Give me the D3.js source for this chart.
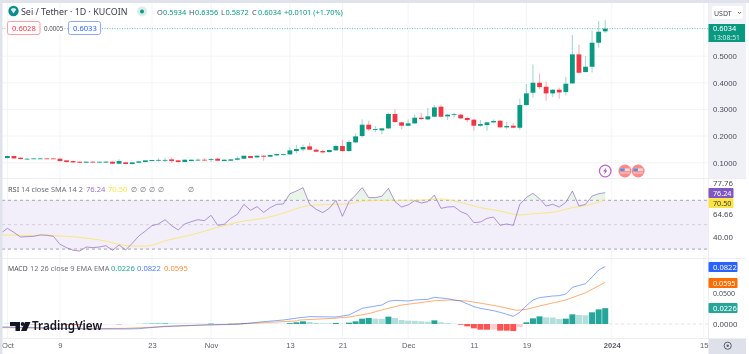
<!DOCTYPE html>
<html>
<head>
<meta charset="utf-8">
<script src="https://cdn.jsdelivr.net/npm/d3@7"></script>
<style>
html, body { margin: 0; padding: 0; background: #fff; overflow: hidden; }
svg { display: block; filter: blur(0.5px); font-family: "Noto Sans", sans-serif; }
</style>
</head>
<body>
<svg id="chart" width="749" height="354"></svg>
<script>
// daily candles, Oct 1 - Dec 31 2023
var opens = [
  .1175,.1250,.1187,.1137,.1150,.1150,.1160,.1160,.1150,.1087,
  .1062,.1037,.1000,.1037,.1005,.1005,.1037,.0962,.1012,.0950,
  .1000,.1025,.1062,.1090,.1085,.1125,.1087,.1025,.1062,.1085,
  .1112,.1112,.1150,.1062,.1075,.1112,.1150,.1250,.1200,.1262,
  .1225,.1275,.1310,.1312,.1438,.1500,.1613,.1488,.1438,.1400,
  .1463,.1626,.1438,.1763,.2001,.2427,.2239,.2215,.2289,.2828,
  .2515,.2389,.2477,.2690,.2627,.2727,.3103,.2740,.2790,.2803,
  .2678,.2615,.2389,.2414,.2515,.2577,.2327,.2389,.2313,.3165,
  .3628,.4003,.3853,.3603,.3741,.3653,.3978,.5068,.4404,.4604,.5506,.5934];
var closes = [
  .1250,.1162,.1137,.1150,.1160,.1160,.1150,.1150,.1062,.1025,
  .1012,.1000,.1037,.1005,.1037,.1040,.0962,.1062,.0950,.1012,
  .1050,.1087,.1100,.1105,.1105,.1062,.1025,.1112,.1112,.1112,
  .1100,.1137,.1075,.1112,.1125,.1162,.1262,.1175,.1262,.1225,
  .1288,.1325,.1325,.1463,.1513,.1588,.1488,.1413,.1388,.1475,
  .1626,.1438,.1776,.1989,.2427,.2252,.2264,.2289,.2828,.2527,
  .2389,.2477,.2690,.2640,.2740,.3078,.2727,.2803,.2820,.2665,
  .2602,.2389,.2452,.2515,.2565,.2327,.2377,.2314,.3165,.3603,
  .4003,.3841,.3603,.3741,.3640,.3966,.5068,.4379,.4604,.5506,.5919,.6034];
var highs = [
  .1262,.1262,.1200,.1160,.1165,.1165,.1165,.1165,.1162,.1095,
  .1070,.1045,.1045,.1045,.1040,.1050,.1050,.1125,.1040,.1015,
  .1055,.1090,.1105,.1162,.1187,.1180,.1100,.1120,.1115,.1162,
  .1175,.1175,.1187,.1125,.1137,.1237,.1262,.1260,.1275,.1275,
  .1300,.1340,.1350,.1575,.1663,.1688,.1751,.1538,.1488,.1500,
  .1676,.1851,.1851,.2101,.2627,.2577,.2377,.2314,.2878,.3003,
  .2540,.2627,.2815,.2878,.3053,.3166,.3178,.2828,.2878,.2828,
  .2727,.2640,.2602,.2540,.2627,.2602,.2540,.2477,.3415,.3953,
  .4692,.4341,.4041,.3766,.3816,.4229,.5794,.5418,.5005,.5957,.6320,.6356];
var lows = [
  .1162,.1150,.1125,.1110,.1135,.1140,.1140,.1140,.1050,.1015,
  .1000,.0995,.0995,.1000,.1000,.1000,.0955,.0950,.0945,.0935,
  .0995,.1020,.1055,.1050,.1025,.1000,.1015,.1020,.1050,.1062,
  .1050,.1025,.1050,.1050,.1065,.1087,.1140,.1175,.1190,.1075,
  .1215,.1265,.1275,.1290,.1350,.1425,.1463,.1388,.1338,.1375,
  .1450,.1413,.1413,.1738,.1951,.2202,.2139,.2064,.2264,.2502,
  .2252,.2364,.2452,.2602,.2602,.2715,.2715,.2602,.2702,.2640,
  .2515,.2202,.2352,.2202,.2477,.2314,.2252,.2314,.2225,.3140,
  .3453,.3766,.3327,.3465,.3415,.3528,.3966,.4354,.4391,.4391,.5318,.5872];

// first value belongs to Sep 30, it runs in from under the left edge
var rsiValues = [
  43.0,47.0,43.7,39.9,40.2,40.5,41.6,41.3,40.5,33.9,31.2,
  29.0,28.4,31.7,31.2,31.7,32.8,29.0,33.4,29.3,34.7,
  40.7,44.8,49.2,50.6,54.1,49.2,45.7,50.6,52.5,54.1,
  53.3,57.7,49.5,50.3,55.2,58.5,66.7,61.8,64.8,60.1,
  64.0,66.7,67.0,75.4,77.6,80.4,66.7,62.6,59.9,63.4,
  70.0,56.9,68.9,74.3,80.4,72.2,72.2,73.3,79.8,68.9,
  64.5,66.2,69.7,67.8,68.9,74.3,63.4,64.5,64.8,60.7,
  58.5,51.7,52.2,55.2,56.3,49.5,50.6,49.5,66.7,72.4,
  75.7,71.3,65.3,66.7,64.5,68.3,77.6,65.3,66.7,73.5,75.4,76.24];
var smaDays = [-1,0,4,5.5,7,9,14,19,21,24.5,28,32,35.5,39.5,43.5,44.5,47,50,52,54,57.5,62,66,69,72,75,78,80,83,86,88,91];
var smaValues = [41.6,41.6,41.0,41.8,41.0,40.5,37.5,32.5,32.5,37.5,41.6,47.8,52.5,55.8,62.1,64.0,66.2,66.7,67.2,69.4,70,70,71.1,68.3,64,61.2,58,59,60.1,64,65.6,70.5];

var histValues = [
  .0006,.0003,-.0001,-.0003,-.0005,-.0006,-.0005,-.0004,-.0006,-.0010,
  -.0012,-.0012,-.0010,-.0008,-.0007,-.0006,-.0005,-.0005,-.0003,-.0001,
  .0002,.0004,.0006,.0007,.0008,.0007,.0006,.0006,.0006,.0006,
  .0005,.0006,.0004,.0003,.0004,.0005,.0009,.0007,.0007,.0006,
  .0006,.0005,.0004,.0012,.0024,.0038,.0029,.0014,.0010,.0009,
  .0014,.0005,.0019,.0038,.0076,.0086,.0076,.0074,.0105,.0086,
  .0057,.0048,.0045,.0038,.0033,.0052,.0024,.0014,.0005,-.0010,
  -.0033,-.0062,-.0081,-.0081,-.0079,-.0095,-.0095,-.0100,-.0043,.0024,
  .0081,.0109,.0095,.0093,.0071,.0076,.0138,.0129,.0124,.0167,.0209,.0226];
var macdDays = [-1,0,6,12,18,20,24,30,35,39,42,44.5,45,46,50,52,54,57,58,59,61,62,64,65,67,68,69,71,72,74,75,77,78,79,80,81,83,84,85,86,88,89,90,91];
var macdValues = [-.0043,-.0043,-.0057,-.0071,-.0071,-.0067,-.0033,-.0014,-.0005,.0033,.0057,.0090,.0095,.0105,.0100,.0129,.0224,.0271,.0324,.0338,.0328,.0343,.0352,.0381,.0362,.0343,.0328,.0248,.0224,.0190,.0167,.0109,.0167,.0262,.0343,.0376,.0400,.0405,.0428,.0524,.0576,.0671,.0771,.0822];
var signalDays = [-1,0,12,18,24,30,35,40,44,44.5,49.6,52,55,57.5,60,62.5,65,67.5,70,72.5,75,77.5,79,81,85,88,91];
var signalValues = [-.0052,-.0052,-.0067,-.0062,-.0038,-.0014,0,.0024,.0043,.0057,.0081,.0100,.0148,.0214,.0271,.0300,.0333,.0343,.0328,.0290,.0248,.0195,.0209,.0257,.0343,.0447,.0595];

var tickDays = [0,8,22,31,43,51,61,71,79,92,106];
var tickLabels = ["Oct","9","23","Nov","13","21","Dec","11","19","2024","15"];
var priceTicks = [0.1,0.2,0.3,0.4,0.5];
var eventDays = [91,94,96];

var GREEN = "#089981", RED = "#f23645", TEAL = "#26a69a", PALE_TEAL = "#b2dfdb", PALE_RED = "#ffcdd2", SOFT_RED = "#ff5252";
var PURPLE = "#7e57c2", YELLOW = "#fbe44a", BLUE = "#2962ff", ORANGE = "#ff6d00", GRID = "#f3f4f7", TEXT = "#131722", BORDER = "#e0e3eb";

var svg = d3.select("#chart");
var W = 749, H = 354, AXIS_X = 708;

var x = d3.scaleLinear().domain([0,92]).range([7.4,611.8]);
var yPrice = d3.scaleLinear().domain([0.1,0.5]).range([162.7,56.2]);
var yRsi = d3.scaleLinear().domain([30,70]).range([249.1,200.3]);
var yMacd = d3.scaleLinear().domain([0,0.05]).range([324,289]);

function addText(s, tx, ty, color, size, weight, anchor){
    return svg.append("text").attr("x",tx).attr("y",ty).attr("fill",color)
        .attr("font-size",size).attr("font-weight",weight||400)
        .attr("text-anchor",anchor||"start").text(s);
}

// panels
svg.append("rect").attr("width",W).attr("height",H).attr("fill","#fff");
svg.append("rect").attr("x",AXIS_X).attr("y",3).attr("width",38).attr("height",175).attr("fill","#f0f1f6");
svg.append("rect").attr("x",AXIS_X).attr("y",338).attr("width",38).attr("height",16).attr("fill","#dfe1ea");

// grid
svg.selectAll(".vgrid").data(tickDays).enter().append("line")
    .attr("x1",function(d){ return x(d) }).attr("x2",function(d){ return x(d) })
    .attr("y1",3).attr("y2",338).attr("stroke",GRID);
svg.selectAll(".hgrid").data(priceTicks).enter().append("line")
    .attr("x1",2).attr("x2",AXIS_X).attr("y1",function(d){ return yPrice(d) }).attr("y2",function(d){ return yPrice(d) })
    .attr("stroke",GRID);
[178.5,258.5,338.5].forEach(function(yy){
    svg.append("line").attr("x1",2).attr("x2",746).attr("y1",yy).attr("y2",yy).attr("stroke","#eceef3");
});
svg.append("line").attr("x1",AXIS_X+.5).attr("x2",AXIS_X+.5).attr("y1",3).attr("y2",354).attr("stroke","#eceef3");

// last price line
svg.append("line").attr("x1",2).attr("x2",AXIS_X).attr("y1",yPrice(closes[91])).attr("y2",yPrice(closes[91]))
    .attr("stroke",GREEN).attr("stroke-opacity",.6).attr("stroke-dasharray","1 1.5");

// candles
var days = d3.range(opens.length);
svg.selectAll(".wick").data(days).enter().append("line")
    .attr("x1",function(i){ return x(i) }).attr("x2",function(i){ return x(i) })
    .attr("y1",function(i){ return yPrice(highs[i]) }).attr("y2",function(i){ return yPrice(lows[i]) })
    .attr("stroke",function(i){ return closes[i]>=opens[i] ? GREEN : RED })
    .attr("stroke-opacity",.34).attr("stroke-width",1.2);
svg.selectAll(".body").data(days).enter().append("rect")
    .attr("x",function(i){ return x(i)-2.4 }).attr("width",4.8)
    .attr("y",function(i){ return yPrice(Math.max(opens[i],closes[i])) })
    .attr("height",function(i){ return Math.max(.8,Math.abs(yPrice(opens[i])-yPrice(closes[i]))) })
    .attr("fill",function(i){ return closes[i]>=opens[i] ? GREEN : RED });

// event badges
eventDays.forEach(function(d,k){
    var g = svg.append("g").attr("transform","translate("+x(d)+",171)");
    if(k==0){
        g.append("circle").attr("r",5.8).attr("fill","#fff").attr("stroke","#ba68c8").attr("stroke-width",1.3);
        g.append("path").attr("d","M1,-3.5 L-2,.6 L-.2,.6 L-1,3.5 L2,-.6 L.2,-.6 Z").attr("fill","#ab47bc");
    } else {
        g.append("circle").attr("r",6.5).attr("fill","#ff8a8a");
        g.append("rect").attr("x",-4.8).attr("y",-2.6).attr("width",9.6).attr("height",5).attr("fill","#f7d9dc");
        g.append("rect").attr("x",-4.8).attr("y",-2.6).attr("width",4.6).attr("height",2.8).attr("fill","#5b8fd6");
        g.append("line").attr("x1",-4.8).attr("x2",4.8).attr("y1",.9).attr("y2",.9).attr("stroke","#f26d6d");
    }
});

// RSI
svg.append("rect").attr("x",2).attr("width",AXIS_X-2)
    .attr("y",yRsi(70)).attr("height",yRsi(30)-yRsi(70)).attr("fill","#f2eefa");
[70,50,30].forEach(function(v){
    svg.append("line").attr("x1",2).attr("x2",AXIS_X).attr("y1",yRsi(v)).attr("y2",yRsi(v))
        .attr("stroke",v==50?"#c9c7d3":"#8f8e9a").attr("stroke-dasharray","3 3").attr("stroke-width",.8);
});
var defs = svg.append("defs");
defs.append("clipPath").attr("id","above70").append("rect")
    .attr("x",0).attr("y",180).attr("width",AXIS_X).attr("height",yRsi(70)-180);
defs.append("clipPath").attr("id","below30").append("rect")
    .attr("x",0).attr("y",yRsi(30)).attr("width",AXIS_X).attr("height",9);
function rsiX(d,i){ return x(i-1) }
var rsiArea = d3.area().x(rsiX).y1(function(d){ return yRsi(d) });
svg.append("path").datum(rsiValues).attr("clip-path","url(#above70)").attr("fill","#c8e6c9").attr("fill-opacity",.4)
    .attr("d",rsiArea.y0(yRsi(70)));
svg.append("path").datum(rsiValues).attr("clip-path","url(#below30)").attr("fill","#ffcdd2").attr("fill-opacity",.4)
    .attr("d",rsiArea.y0(yRsi(30)));
svg.append("path").datum(smaValues).attr("fill","none").attr("stroke",YELLOW).attr("stroke-opacity",.7).attr("stroke-width",1)
    .attr("d",d3.line().x(function(d,i){ return x(smaDays[i]) }).y(function(d){ return yRsi(d) }).curve(d3.curveMonotoneX));
svg.append("path").datum(rsiValues).attr("fill","none").attr("stroke",PURPLE).attr("stroke-opacity",.6).attr("stroke-width",1)
    .attr("d",d3.line().x(rsiX).y(function(d){ return yRsi(d) }));

// MACD
svg.append("line").attr("x1",x(91)+4).attr("x2",AXIS_X).attr("y1",yMacd(0)).attr("y2",yMacd(0))
    .attr("stroke","#dfe1e6").attr("stroke-dasharray","3 3");
function histColor(i){
    var v = histValues[i], p = i>0 ? histValues[i-1] : v;
    if(v>=0) return v>p ? TEAL : PALE_TEAL;
    return v<=p ? SOFT_RED : PALE_RED;
}
svg.selectAll(".hist").data(days).enter().append("rect")
    .attr("x",function(i){ return x(i)-3 }).attr("width",6)
    .attr("y",function(i){ return Math.min(yMacd(0),yMacd(histValues[i])) })
    .attr("height",function(i){ return Math.abs(yMacd(histValues[i])-yMacd(0)) })
    .attr("fill",histColor);
svg.append("path").datum(signalValues).attr("fill","none").attr("stroke",ORANGE).attr("stroke-opacity",.55).attr("stroke-width",1)
    .attr("d",d3.line().x(function(d,i){ return x(signalDays[i]) }).y(function(d){ return yMacd(d) }));
svg.append("path").datum(macdValues).attr("fill","none").attr("stroke",BLUE).attr("stroke-opacity",.55).attr("stroke-width",1)
    .attr("d",d3.line().x(function(d,i){ return x(macdDays[i]) }).y(function(d){ return yMacd(d) }));

// logo
var logo = svg.append("g").attr("fill",TEXT);
logo.append("path").attr("d","M10,322 H20 V331 H15.5 V326 H10 Z");
logo.append("circle").attr("cx",22.6).attr("cy",324).attr("r",1.9);
logo.append("path").attr("d","M25,322 H30.5 L26.5,331 H21 Z");
addText("TradingView",32,329.5,TEXT,11.7,600);

// axes
var timeAxis = svg.append("g").attr("transform","translate(0,338)")
    .call(d3.axisBottom(x).tickValues(tickDays).tickSize(0).tickPadding(5)
        .tickFormat(function(d,i){ return tickLabels[i] }));
timeAxis.select(".domain").remove();
timeAxis.selectAll("text").attr("fill","#5d606b").attr("font-size",7.6).attr("font-family","inherit")
    .attr("font-weight",function(d){ return d==92 ? 700 : 400 });

var priceAxis = svg.append("g").attr("transform","translate("+AXIS_X+",0)")
    .call(d3.axisRight(yPrice).tickValues(priceTicks).tickSize(0).tickPadding(5)
        .tickFormat(d3.format(".4f")));
priceAxis.select(".domain").remove();
priceAxis.selectAll("text").attr("fill","#4a4d58").attr("font-size",7.8).attr("font-family","inherit");

// pushed a little below its level, the orange tag sits right on top of it
addText("0.0500",713,yMacd(0.05)+6.5,"#4a4d58",7);
addText("0.0000",713,yMacd(0)+3,"#4a4d58",7.8);

// the two outer RSI labels sit away from their real level in the reference
var rsiTickLabels = ["77.76","64.66","40.00"];
var rsiTickAt = [84.1,58.8,40];
rsiTickLabels.forEach(function(s,i){
    addText(s,713,yRsi(rsiTickAt[i])+2.8,"#4a4d58",7.8);
});

function tag(s, y0, h, w, fill, color, size){
    svg.append("rect").attr("x",AXIS_X+.5).attr("y",y0).attr("width",w).attr("height",h).attr("rx",1).attr("fill",fill);
    addText(s,713,y0+h/2+2.6,color,size||7.6);
}
tag("76.24",188,10,25,PURPLE,"#fff",7.2);
tag("70.50",198,10,25,YELLOW,"#3b3b2a",7.2);
tag("0.0822",262,10,29,BLUE,"#fff");
tag("0.0595",278,10,29,ORANGE,"#fff",7.2);
tag("0.0226",303,10,29,TEAL,"#fff");

// last price tag
svg.append("rect").attr("x",AXIS_X+.5).attr("y",24).attr("width",36.5).attr("height",18).attr("fill",GREEN);
addText("0.6034",713,31,"#fff",7.4);
addText("13:08:51",713,40,"#d5efe9",6.8);

// currency box
svg.append("rect").attr("x",712).attr("y",6).attr("width",31).attr("height",13).attr("rx",2).attr("fill","#fff");
addText("USDT",714,15.5,"#4a4d58",7);
svg.append("path").attr("d","M738,12 l1.6,1.6 l1.6,-1.6").attr("fill","none").attr("stroke","#4a4d58").attr("stroke-width",.8);

// settings button
svg.append("circle").attr("cx",727.7).attr("cy",345.7).attr("r",3.6).attr("fill","none").attr("stroke","#5d606b");
svg.append("circle").attr("cx",727.7).attr("cy",345.7).attr("r",1.2).attr("fill","#5d606b");

// legend, main pane
svg.append("circle").attr("cx",13.5).attr("cy",11).attr("r",5.2).attr("fill","#0f8b8d");
svg.append("path").attr("d","M10.8,9.5 L12,8.3 H15 L16.2,9.5 L13.5,13.4 Z").attr("fill","#d7f0ee");
addText("Sei / Tether · 1D · KUCOIN",21,14.7,"#3a3d48",8.9);
svg.append("circle").attr("cx",142).attr("cy",11.5).attr("r",5).attr("fill","#d6efe9");
svg.append("circle").attr("cx",142).attr("cy",11.5).attr("r",2).attr("fill",GREEN);
var ohlcLetters = ["O","H","L","C"], ohlcValues = ["0.5934","0.6356","0.5872","0.6034"], ohlcX = [157,189,221,252];
ohlcLetters.forEach(function(s,i){
    addText(s,ohlcX[i],14.5,"#50535e",7.4);
    addText(ohlcValues[i],ohlcX[i]+(s=="L"?4.5:6),14.5,GREEN,7.4);
});
addText("+0.0101 (+1.70%)",284,14.5,GREEN,7.4);

// order boxes
svg.append("rect").attr("x",7.5).attr("y",21.5).attr("width",32.5).attr("height",13).attr("rx",2).attr("fill","#fff").attr("stroke","#f7a1a8");
addText("0.6028",12,31,RED,7.6);
svg.append("rect").attr("x",42).attr("y",24).attr("width",22).attr("height",9).attr("fill","#fff");
addText("0.0005",44,31,"#50535e",6.2);
svg.append("rect").attr("x",68.5).attr("y",21.5).attr("width",32).attr("height",13).attr("rx",2).attr("fill","#fff").attr("stroke","#8fa8f5");
addText("0.6033",73,31,BLUE,7.6);

// legend, RSI
addText("RSI",8,191.5,"#50535e",7.4);
addText("14 close SMA 14 2",21,191.5,"#6e717c",7.4);
addText("76.24",86,191.5,"#9479d0",7.6);
addText("70.50",108,191.5,YELLOW,7.6);
var emptyMarksX = [131,140,149,158,188];
emptyMarksX.forEach(function(px){ addText("∅",px,191.5,"#6e717c",7.4) });

// legend, MACD
addText("MACD",8,270.5,"#50535e",6.8);
addText("12 26 close 9 EMA EMA",30,270.5,"#6e717c",7.4);
addText("0.0226",111,270.5,TEAL,7.6);
addText("0.0822",137,270.5,"#4f7df5",7.6);
addText("0.0595",164,270.5,"#fb8c3c",7.6);

// window frame
svg.append("rect").attr("width",2.5).attr("height",H).attr("fill",BORDER);
svg.append("rect").attr("width",W).attr("height",3).attr("fill",BORDER);
</script>
</body>
</html>
